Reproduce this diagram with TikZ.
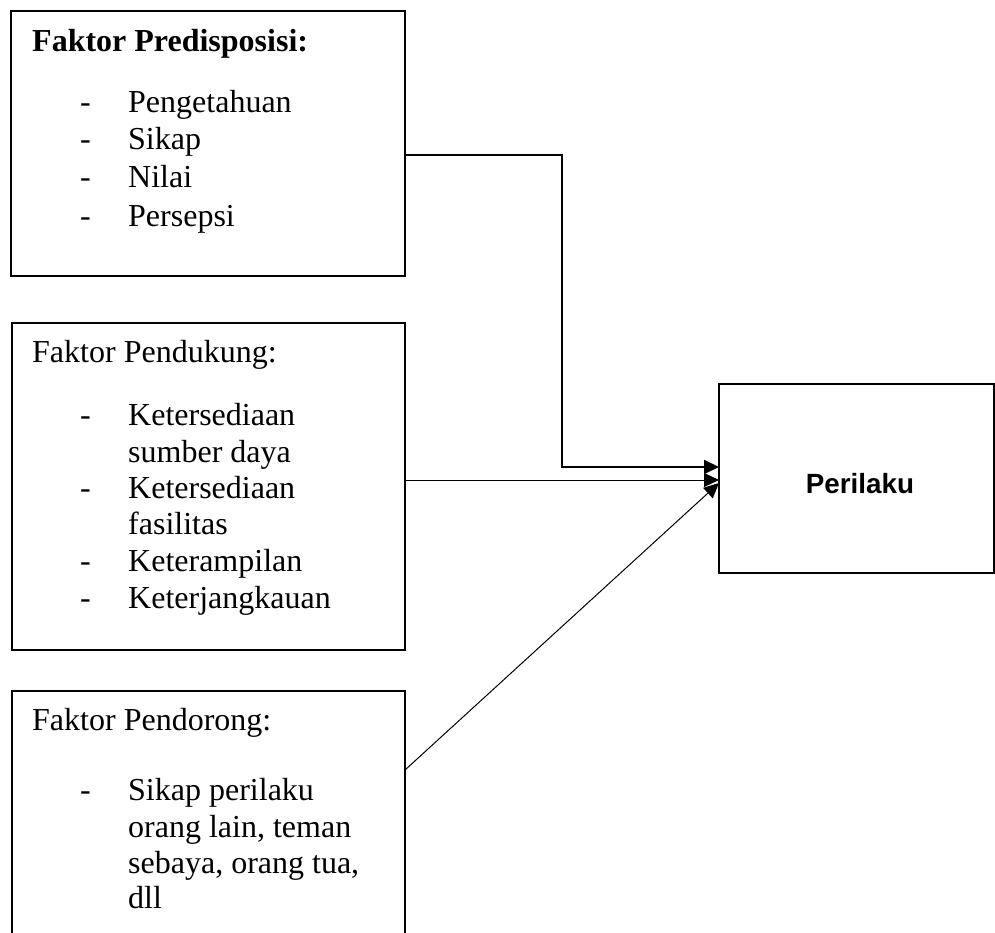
\documentclass[tikz,border=0pt]{standalone}
\usepackage{fontspec}
\setmainfont{Liberation Serif}
\newfontfamily\perfont{Liberation Sans}
\usetikzlibrary{arrows.meta}
\begin{document}
\begin{tikzpicture}[x=1pt,y=-1pt,
  box/.style={draw, line width=2pt, anchor=north west, inner sep=0pt, outer sep=0pt},
  txt/.style={anchor=base west, inner sep=0pt, font=\fontsize{32}{36}\selectfont},
  headtxt/.style={txt, font=\fontsize{32}{36}\selectfont},
  bul/.style={txt},
  conn/.style={line width=1pt, -{Triangle[length=15pt,width=14pt]}},
  connthick/.style={conn, line width=2pt}
]
\useasboundingbox (0,0) rectangle (995,933);
\clip (0,0) rectangle (995,933);

% boxes
\node[box, minimum width=394pt, minimum height=265pt] (b1) at (11,11) {};
\node[box, minimum width=393pt, minimum height=327pt] (b2) at (12,323) {};
\node[box, minimum width=393pt, minimum height=280pt] (b3) at (12,691) {};
\node[box, minimum width=275pt, minimum height=189pt] (per) at (719,384) {};
\node[anchor=base, inner sep=0pt, font=\perfont\bfseries\fontsize{27.8}{32}\selectfont] (pertxt) at (860,493) {Perilaku};

% box 1 text
\node[headtxt, font=\bfseries\fontsize{32}{36}\selectfont] (h1) at (32,52) {Faktor Predisposisi:};
\node[bul] (d11) at (80,113) {-};
\node[txt] (t11) at (128,113) {Pengetahuan};
\node[bul] (d12) at (80,150) {-};
\node[txt] (t12) at (128,150) {Sikap};
\node[bul] (d13) at (80,188) {-};
\node[txt] (t13) at (128,188) {Nilai};
\node[bul] (d14) at (80,227) {-};
\node[txt] (t14) at (128,227) {Persepsi};

% box 2 text
\node[headtxt] (h2) at (32,362) {Faktor Pendukung:};
\node[bul] (d21) at (80,425) {-};
\node[txt] (t21) at (128,425) {Ketersediaan};
\node[txt] (t22) at (128,462) {sumber daya};
\node[bul] (d23) at (80,498) {-};
\node[txt] (t23) at (128,498) {Ketersediaan};
\node[txt] (t24) at (128,534) {fasilitas};
\node[bul] (d25) at (80,571) {-};
\node[txt] (t25) at (128,571) {Keterampilan};
\node[bul] (d26) at (80,608) {-};
\node[txt] (t26) at (128,608) {Keterjangkauan};

% box 3 text
\node[headtxt] (h3) at (32,730) {Faktor Pendorong:};
\node[bul] (d31) at (80,800) {-};
\node[txt] (t31) at (128,800) {Sikap perilaku};
\node[txt] (t32) at (128,837) {orang lain, teman};
\node[txt] (t33) at (128,873) {sebaya, orang tua,};
\node[txt] (t34) at (128,908) {dll};

% connectors
\draw[connthick] ([yshift=-144pt]b1.north east) -- ++(157,0) |- ([yshift=-83pt]per.north west);
\draw[conn] ([yshift=-157pt]b2.north east) -- ([yshift=-96pt]per.north west);
\draw[conn] ([yshift=-79pt]b3.north east) -- ([yshift=-99pt]per.north west);
\end{tikzpicture}
\end{document}
